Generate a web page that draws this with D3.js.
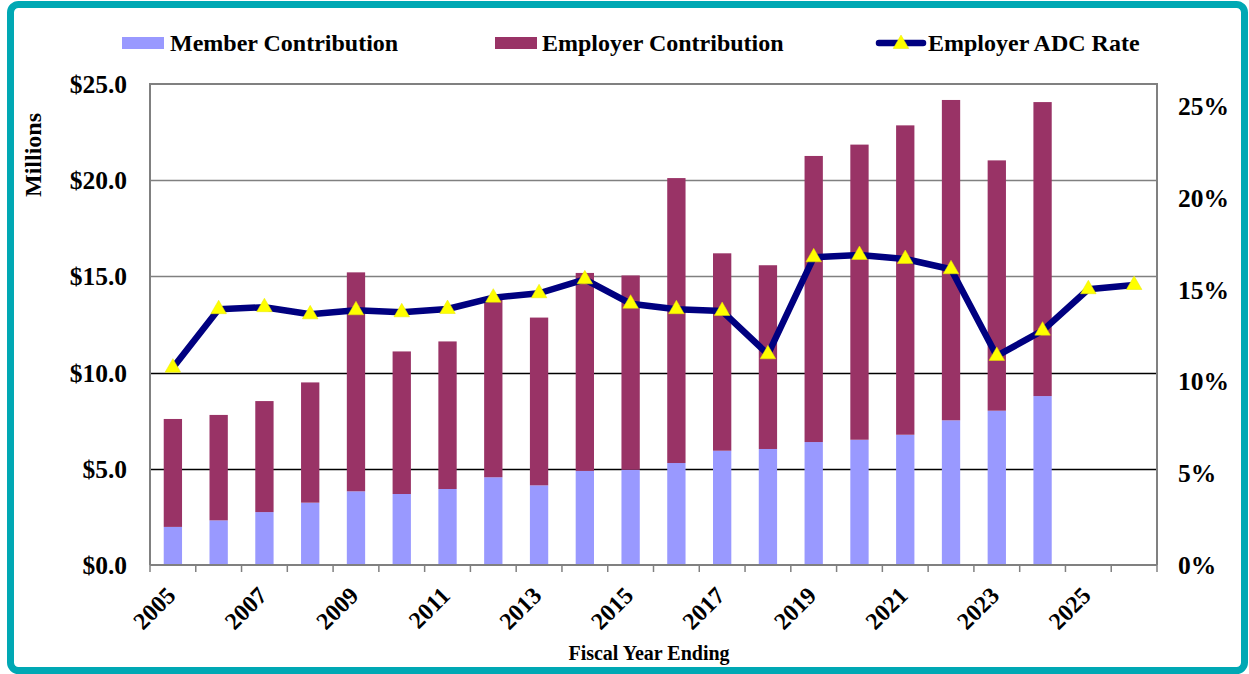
<!DOCTYPE html>
<html>
<head>
<meta charset="utf-8">
<script src="https://cdn.jsdelivr.net/npm/d3@7"></script>
<style>
  body { margin: 0; background: #fff; }
  text { font-family: "Liberation Serif", "Times New Roman", serif; font-weight: bold; fill: #000; }
</style>
</head>
<body>
<svg id="chart" width="1249" height="674"></svg>
<script>
//  Chart data
var years = ['2005','2006','2007','2008','2009','2010','2011','2012','2013','2014','2015',
             '2016','2017','2018','2019','2020','2021','2022','2023','2024','2025','2026'];
var labelYears = ['2005','2007','2009','2011','2013','2015','2017','2019','2021','2023','2025'];
var member   = [1.98, 2.32, 2.75, 3.24, 3.83, 3.69, 3.95, 4.56, 4.14, 4.89, 4.95,
                5.30, 5.94, 6.03, 6.39, 6.51, 6.77, 7.52, 8.02, 8.78];
var employer = [5.61, 5.48, 5.77, 6.25, 11.38, 7.41, 7.67, 9.30, 8.72, 10.29, 10.10,
                14.81, 10.26, 9.55, 14.87, 15.34, 16.08, 16.65, 13.01, 15.28];
var adcRate  = [10.77, 13.96, 14.07, 13.68, 13.90, 13.79, 13.97, 14.59, 14.83, 15.59, 14.26,
                13.96, 13.86, 11.50, 16.79, 16.92, 16.70, 16.14, 11.41, 12.79, 15.05, 15.28];
var leftTicks  = [0, 5, 10, 15, 20, 25];
var rightTicks = [0, 5, 10, 15, 20, 25];

var svg = d3.select('#chart');
var m = { left: 150, right: 1157, top: 84, bottom: 565 };

//  outer frame
svg.append('rect')
    .attr('x', 10.5).attr('y', 4.5)
    .attr('width', 1234).attr('height', 666)
    .attr('rx', 8)
    .attr('fill', 'none')
    .attr('stroke', '#00A8B4')
    .attr('stroke-width', 7);

//  scales
var x = d3.scaleBand().domain(years).range([m.left, m.right]).paddingInner(0.6).paddingOuter(0.3);
var slot = (m.right - m.left) / years.length;
var yL = d3.scaleLinear().domain([0, 25]).range([m.bottom, m.top]);
var yR = d3.scaleLinear().domain([0, 26.25]).range([m.bottom, m.top]);

function cx(year) { return x(year) + x.bandwidth() / 2; }

//  gridlines
svg.append('g').selectAll('line')
    .data([5, 10, 15, 20])
    .join('line')
    .attr('x1', m.left).attr('x2', m.right)
    .attr('y1', function(d) { return Math.round(yL(d)) + 0.5; })
    .attr('y2', function(d) { return Math.round(yL(d)) + 0.5; })
    .attr('stroke', function(d) { return d <= 10 ? '#000' : '#808080'; })
    .attr('stroke-width', 1.5);

//  plot border (left, top, right)
svg.append('path')
    .attr('d', 'M' + m.left + ',' + m.bottom + 'V' + m.top + 'H' + m.right + 'V' + m.bottom)
    .attr('fill', 'none')
    .attr('stroke', '#808080')
    .attr('stroke-width', 2);

//  stacked bars
var stackData = member.map(function(v, i) { return { year: years[i], member: v, employer: employer[i] }; });
var series = d3.stack().keys(['member', 'employer'])(stackData);
var colors = { member: '#9999FF', employer: '#993366' };

svg.append('g').selectAll('g')
    .data(series)
    .join('g')
    .attr('fill', function(s) { return colors[s.key]; })
    .selectAll('rect')
    .data(function(s) { return s; })
    .join('rect')
    .attr('x', function(d) { return x(d.data.year); })
    .attr('width', x.bandwidth())
    .attr('y', function(d) { return yL(d[1]); })
    .attr('height', function(d) { return yL(d[0]) - yL(d[1]); });

//  bottom axis
var xAxis = svg.append('g');
xAxis.append('line')
    .attr('x1', m.left).attr('x2', m.right)
    .attr('y1', m.bottom).attr('y2', m.bottom)
    .attr('stroke', '#808080').attr('stroke-width', 2);
xAxis.selectAll('line.tick')
    .data(d3.range(years.length + 1))
    .join('line')
    .attr('class', 'tick')
    .attr('x1', function(i) { return m.left + i * slot; })
    .attr('x2', function(i) { return m.left + i * slot; })
    .attr('y1', m.bottom).attr('y2', m.bottom + 7)
    .attr('stroke', '#808080').attr('stroke-width', 1.5);

xAxis.selectAll('text')
    .data(labelYears)
    .join('text')
    .attr('text-anchor', 'end')
    .attr('font-size', 24)
    .attr('transform', function(d) {
        return 'translate(' + (cx(d) + 4) + ',' + 597 + ') rotate(-45)';
    })
    .text(function(d) { return d; });

svg.append('text')
    .attr('x', 649).attr('y', 660)
    .attr('text-anchor', 'middle')
    .attr('font-size', 20)
    .text('Fiscal Year Ending');

//  left axis labels
svg.append('g').selectAll('text')
    .data(leftTicks)
    .join('text')
    .attr('x', 127)
    .attr('y', function(d) { return yL(d) + 9; })
    .attr('text-anchor', 'end')
    .attr('font-size', 25.5)
    .text(function(d) { return '$' + d.toFixed(1); });

svg.append('text')
    .attr('transform', 'translate(41,155) rotate(-90)')
    .attr('text-anchor', 'middle')
    .attr('font-size', 24)
    .text('Millions');

//  right axis labels
svg.append('g').selectAll('text')
    .data(rightTicks)
    .join('text')
    .attr('x', 1178)
    .attr('y', function(d) { return yR(d) + 8.5; })
    .attr('font-size', 25.5)
    .text(function(d) { return d + '%'; });

//  ADC rate line
var line = d3.line()
    .x(function(d, i) { return cx(years[i]); })
    .y(function(d) { return yR(d); });

svg.append('path')
    .datum(adcRate)
    .attr('d', line)
    .attr('fill', 'none')
    .attr('stroke', '#000080')
    .attr('stroke-width', 6.5)
    .attr('stroke-linejoin', 'round');

var tri = d3.symbol().type(d3.symbolTriangle).size(105);
svg.append('g').selectAll('path')
    .data(adcRate)
    .join('path')
    .attr('d', tri)
    .attr('transform', function(d, i) {
        return 'translate(' + cx(years[i]) + ',' + yR(d) + ')';
    })
    .attr('fill', '#FFFF00')
    .attr('stroke', '#E8E800')
    .attr('stroke-width', 0.5);

//  legend
var legend = svg.append('g');
legend.append('rect').attr('x', 122).attr('y', 37).attr('width', 42).attr('height', 12).attr('fill', colors.member);
legend.append('text').attr('x', 170).attr('y', 51).attr('font-size', 24).text('Member Contribution');
legend.append('rect').attr('x', 495).attr('y', 37).attr('width', 42).attr('height', 12).attr('fill', colors.employer);
legend.append('text').attr('x', 542).attr('y', 51).attr('font-size', 24).text('Employer Contribution');
legend.append('line').attr('x1', 879).attr('x2', 923).attr('y1', 43).attr('y2', 43)
    .attr('stroke', '#000080').attr('stroke-width', 6.5).attr('stroke-linecap', 'round');
legend.append('path').attr('d', tri).attr('transform', 'translate(901,44)')
    .attr('fill', '#FFFF00').attr('stroke', '#E8E800').attr('stroke-width', 0.5);
legend.append('text').attr('x', 928).attr('y', 51).attr('font-size', 24).text('Employer ADC Rate');
</script>
</body>
</html>
